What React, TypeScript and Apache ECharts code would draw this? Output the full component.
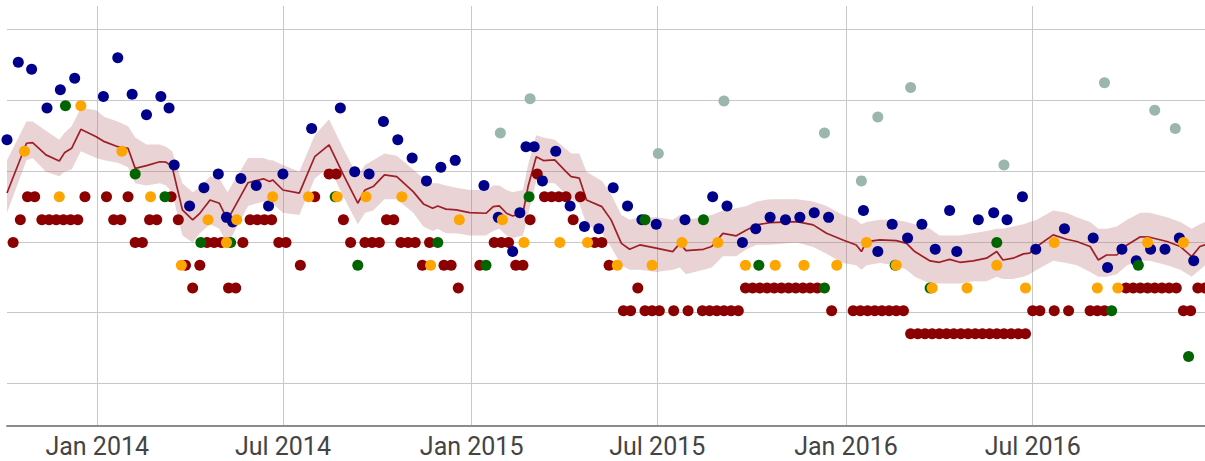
import React, { useEffect, useRef } from "react";
import * as echarts from "echarts";

// ---- axis ----
const X_MIN = "2013-10-05";
const X_MAX = "2016-12-16";
const xTickDates = ["2014-01-01", "2014-07-01", "2015-01-01", "2015-07-01", "2016-01-01", "2016-07-01"];
const xTickLabels = ["Jan 2014", "Jul 2014", "Jan 2015", "Jul 2015", "Jan 2016", "Jul 2016"];
const Y_MIN = -2.05;
const Y_MAX = 16.37;
const yGridValues = [-0.18, 2.93, 6.03, 9.14, 12.24, 15.35];

// ---- weekly poll (dark red) ----
const darkRed: [string, number][] = [
  ["2013-10-04", 5], ["2013-10-11", 6], ["2013-10-18", 7], ["2013-10-25", 8], ["2013-11-01", 8], ["2013-11-08", 7],
  ["2013-11-15", 7], ["2013-11-22", 7], ["2013-11-29", 7], ["2013-12-06", 7], ["2013-12-13", 7], ["2013-12-20", 8],
  ["2014-01-10", 8], ["2014-01-17", 7], ["2014-01-24", 7], ["2014-01-31", 8], ["2014-02-07", 6], ["2014-02-14", 6],
  ["2014-02-21", 7], ["2014-02-28", 7], ["2014-03-14", 8], ["2014-03-21", 7], ["2014-03-28", 5], ["2014-04-04", 4],
  ["2014-04-11", 5], ["2014-04-18", 6], ["2014-04-25", 6], ["2014-05-02", 6], ["2014-05-09", 4], ["2014-05-16", 4],
  ["2014-05-23", 6], ["2014-05-30", 7], ["2014-06-06", 7], ["2014-06-13", 7], ["2014-06-20", 7], ["2014-06-27", 6],
  ["2014-07-04", 6], ["2014-07-18", 5], ["2014-08-01", 8], ["2014-08-15", 9], ["2014-08-22", 9], ["2014-08-29", 7],
  ["2014-09-05", 6], ["2014-09-19", 6], ["2014-09-26", 6], ["2014-10-03", 6], ["2014-10-10", 7], ["2014-10-17", 7],
  ["2014-10-24", 6], ["2014-10-31", 6], ["2014-11-07", 6], ["2014-11-14", 5], ["2014-11-21", 6], ["2014-12-05", 5],
  ["2014-12-12", 5], ["2014-12-19", 4],
  ["2015-01-09", 5], ["2015-01-23", 6], ["2015-01-30", 6], ["2015-02-06", 6], ["2015-02-13", 5], ["2015-02-20", 5],
  ["2015-02-27", 7], ["2015-03-06", 9], ["2015-03-13", 8], ["2015-03-20", 8], ["2015-03-27", 8], ["2015-04-03", 8],
  ["2015-04-10", 7], ["2015-04-17", 8], ["2015-05-01", 6], ["2015-05-08", 6], ["2015-05-15", 5], ["2015-05-29", 3],
  ["2015-06-05", 3], ["2015-06-12", 4], ["2015-06-19", 3], ["2015-06-26", 3], ["2015-07-03", 3], ["2015-07-17", 3],
  ["2015-07-31", 3], ["2015-08-14", 3], ["2015-08-21", 3], ["2015-08-28", 3], ["2015-09-04", 3], ["2015-09-11", 3],
  ["2015-09-18", 3], ["2015-09-25", 4], ["2015-10-02", 4], ["2015-10-09", 4], ["2015-10-16", 4], ["2015-10-23", 4],
  ["2015-10-30", 4], ["2015-11-06", 4], ["2015-11-13", 4], ["2015-11-20", 4], ["2015-11-27", 4], ["2015-12-04", 4],
  ["2015-12-18", 3],
  ["2016-01-08", 3], ["2016-01-15", 3], ["2016-01-22", 3], ["2016-01-29", 3], ["2016-02-05", 3], ["2016-02-12", 3],
  ["2016-02-19", 3], ["2016-02-26", 3], ["2016-03-04", 2], ["2016-03-11", 2], ["2016-03-18", 2], ["2016-03-25", 2],
  ["2016-04-01", 2], ["2016-04-08", 2], ["2016-04-15", 2], ["2016-04-22", 2], ["2016-04-29", 2], ["2016-05-06", 2],
  ["2016-05-13", 2], ["2016-05-20", 2], ["2016-05-27", 2], ["2016-06-03", 2], ["2016-06-10", 2], ["2016-06-17", 2],
  ["2016-06-24", 2], ["2016-07-01", 3], ["2016-07-08", 3], ["2016-07-22", 3], ["2016-08-05", 3], ["2016-08-26", 3],
  ["2016-09-02", 3], ["2016-09-09", 3], ["2016-09-30", 4], ["2016-10-07", 4], ["2016-10-14", 4], ["2016-10-21", 4],
  ["2016-10-28", 4], ["2016-11-04", 4], ["2016-11-11", 4], ["2016-11-18", 4], ["2016-11-25", 3], ["2016-12-02", 3],
  ["2016-12-09", 4], ["2016-12-16", 4],
];

// ---- navy poll ----
const navy: [string, number][] = [
  ["2013-10-05", 10.5], ["2013-10-16", 13.9], ["2013-10-29", 13.6], ["2013-11-13", 11.9], ["2013-11-26", 12.7],
  ["2013-12-10", 13.2], ["2014-01-07", 12.4], ["2014-01-21", 14.1], ["2014-02-04", 12.5], ["2014-02-18", 11.6],
  ["2014-03-04", 12.4], ["2014-03-12", 11.9], ["2014-03-17", 9.4], ["2014-04-01", 7.6], ["2014-04-15", 8.4],
  ["2014-04-29", 9.0], ["2014-05-07", 7.1], ["2014-05-13", 6.9], ["2014-05-21", 8.8], ["2014-06-05", 8.5],
  ["2014-06-17", 7.6], ["2014-07-01", 9.0], ["2014-07-29", 11.0], ["2014-08-26", 11.9], ["2014-09-09", 9.1],
  ["2014-09-23", 9.0], ["2014-10-07", 11.3], ["2014-10-21", 10.5], ["2014-11-04", 9.7], ["2014-11-18", 8.7],
  ["2014-12-02", 9.3], ["2014-12-16", 9.6], ["2015-01-13", 8.5], ["2015-01-27", 7.1], ["2015-02-10", 5.6],
  ["2015-02-17", 7.3], ["2015-02-23", 10.2], ["2015-03-03", 10.2], ["2015-03-11", 8.7], ["2015-03-24", 10.0],
  ["2015-04-07", 7.6], ["2015-04-21", 6.7], ["2015-05-05", 6.6], ["2015-05-19", 8.4], ["2015-06-02", 7.6],
  ["2015-06-16", 7.0], ["2015-06-30", 6.8], ["2015-07-28", 7.0], ["2015-08-24", 8.0], ["2015-09-07", 7.6],
  ["2015-09-22", 6.0], ["2015-10-05", 6.6], ["2015-10-19", 7.1], ["2015-11-03", 7.0], ["2015-11-17", 7.1],
  ["2015-12-01", 7.3], ["2015-12-15", 7.1], ["2016-01-18", 7.4], ["2016-02-01", 5.6], ["2016-02-15", 6.8],
  ["2016-03-01", 6.2], ["2016-03-15", 6.8], ["2016-03-28", 5.7], ["2016-04-11", 7.4], ["2016-04-18", 5.6],
  ["2016-05-09", 7.0], ["2016-05-24", 7.3], ["2016-06-06", 7.0], ["2016-06-21", 8.0], ["2016-07-04", 5.7],
  ["2016-08-01", 6.6], ["2016-08-29", 6.2], ["2016-09-12", 4.9], ["2016-09-26", 5.7], ["2016-10-10", 5.2],
  ["2016-10-24", 5.7], ["2016-11-07", 5.7], ["2016-11-21", 6.2], ["2016-12-05", 5.2],
];

// ---- orange poll ----
const orange: [string, number][] = [
  ["2013-10-22", 10], ["2013-11-25", 8], ["2013-12-16", 12], ["2014-01-25", 10], ["2014-02-22", 8], ["2014-03-24", 5],
  ["2014-04-19", 7], ["2014-05-07", 6], ["2014-05-17", 7], ["2014-06-21", 8], ["2014-07-26", 8], ["2014-08-23", 8],
  ["2014-09-20", 8], ["2014-10-25", 8], ["2014-11-22", 5], ["2014-12-20", 7], ["2015-01-31", 7], ["2015-02-21", 6],
  ["2015-03-28", 6], ["2015-04-24", 6], ["2015-05-23", 5], ["2015-06-26", 5], ["2015-07-25", 6], ["2015-08-29", 6],
  ["2015-09-25", 5], ["2015-10-24", 5], ["2015-11-21", 5], ["2015-12-23", 5], ["2016-01-21", 6], ["2016-02-19", 5],
  ["2016-03-25", 4], ["2016-04-28", 4], ["2016-05-27", 5], ["2016-06-24", 4], ["2016-07-22", 6], ["2016-09-02", 4],
  ["2016-09-22", 4], ["2016-10-21", 6], ["2016-11-25", 6],
];

// ---- green poll ----
const green: [string, number][] = [
  ["2013-12-01", 12], ["2014-02-07", 9], ["2014-03-08", 8], ["2014-04-12", 6], ["2014-05-11", 6], ["2014-08-21", 8],
  ["2014-09-12", 5], ["2014-11-29", 6], ["2015-01-15", 5], ["2015-02-26", 8], ["2015-06-19", 7], ["2015-08-15", 7],
  ["2015-10-08", 5], ["2015-12-11", 4], ["2016-02-18", 5], ["2016-03-23", 4], ["2016-05-27", 6], ["2016-09-16", 3],
  ["2016-10-12", 5], ["2016-11-30", 1],
];

// ---- grey-green poll ----
const greyGreen: [string, number][] = [
  ["2015-01-29", 10.8], ["2015-02-27", 12.3], ["2015-07-02", 9.9], ["2015-09-04", 12.2], ["2015-12-11", 10.8],
  ["2016-01-16", 8.7], ["2016-02-01", 11.5], ["2016-03-04", 12.8], ["2016-06-03", 9.4], ["2016-09-09", 13.0],
  ["2016-10-28", 11.8], ["2016-11-17", 11.0],
];

// ---- trend line and its band ----
const trendDates = [
  "2013-10-05", "2013-10-24", "2013-10-30", "2013-11-12", "2013-11-25", "2013-11-30", "2013-12-07", "2013-12-16",
  "2013-12-31", "2014-01-08", "2014-01-21", "2014-01-31", "2014-02-07", "2014-02-18", "2014-03-03", "2014-03-09",
  "2014-03-15", "2014-03-25", "2014-04-04", "2014-04-11", "2014-04-21", "2014-04-30", "2014-05-08", "2014-05-28",
  "2014-06-12", "2014-06-18", "2014-06-21", "2014-07-01", "2014-07-17", "2014-08-01", "2014-08-15", "2014-08-29",
  "2014-09-12", "2014-09-19", "2014-09-27", "2014-10-08", "2014-10-20", "2014-11-05", "2014-11-15", "2014-11-24",
  "2014-11-29", "2014-12-07", "2014-12-17", "2014-12-30", "2015-01-15", "2015-01-22", "2015-01-28", "2015-02-04",
  "2015-02-10", "2015-02-20", "2015-02-25", "2015-03-05", "2015-03-12", "2015-03-23", "2015-04-03", "2015-04-08",
  "2015-04-16", "2015-04-23", "2015-05-08", "2015-05-17", "2015-05-27", "2015-06-04", "2015-06-14", "2015-06-30",
  "2015-07-16", "2015-07-23", "2015-07-29", "2015-08-15", "2015-08-23", "2015-09-03", "2015-09-16", "2015-09-26",
  "2015-10-06", "2015-10-19", "2015-11-14", "2015-11-30", "2015-12-13", "2015-12-29", "2016-01-11", "2016-01-16",
  "2016-01-21", "2016-02-03", "2016-02-19", "2016-02-29", "2016-03-08", "2016-03-23", "2016-04-01", "2016-04-11",
  "2016-04-21", "2016-05-04", "2016-05-17", "2016-05-27", "2016-06-02", "2016-06-12", "2016-06-22", "2016-06-28",
  "2016-07-05", "2016-07-21", "2016-08-03", "2016-08-13", "2016-08-26", "2016-09-03", "2016-09-11", "2016-09-21",
  "2016-10-01", "2016-10-14", "2016-10-23", "2016-11-09", "2016-11-22", "2016-12-03", "2016-12-11", "2016-12-16",
];
const trendValues = [
  8.17, 10.35, 10.38, 9.84, 9.57, 9.93, 10.13, 10.96,
  10.64, 10.42, 10.2, 10.13, 9.25, 9.37, 9.54, 9.52,
  9.32, 7.43, 6.99, 7.28, 7.86, 7.72, 6.99, 8.62,
  8.79, 8.67, 8.74, 8.3, 8.16, 9.76, 10.28, 8.96,
  7.72, 8.3, 8.45, 8.96, 8.89, 8.23, 7.69, 7.5,
  7.6, 7.46, 7.43, 7.31, 7.28, 7.57, 7.6, 7.28,
  7.16, 7.28, 8.45, 9.76, 9.59, 9.62, 9.11, 8.89,
  8.82, 7.86, 7.57, 6.99, 5.96, 5.7, 5.89, 5.75,
  5.6, 5.96, 5.64, 5.7, 5.82, 6.4, 6.29, 6.55,
  6.77, 6.87, 6.91, 6.77, 6.4, 6.11, 5.89, 5.6,
  6.04, 6.11, 6.08, 5.96, 5.6, 5.19, 5.13, 5.26,
  5.13, 5.19, 5.31, 5.6, 5.23, 5.31, 5.5, 5.53,
  5.82, 6.33, 6.14, 6.04, 5.82, 5.23, 5.45, 5.45,
  5.89, 6.25, 6.23, 6.04, 5.82, 5.38, 5.82, 5.9,
];
const bandUpper = [
  9.6, 11.3, 11.3, 10.9, 10.5, 10.8, 11.1, 11.9,
  11.8, 11.5, 11.3, 11.1, 10.6, 10.3, 10.3, 10.2,
  10.0, 8.6, 8.2, 8.4, 8.9, 8.8, 8.2, 9.7,
  9.7, 9.6, 9.6, 9.4, 9.1, 10.7, 11.4, 10.1,
  8.9, 9.4, 9.6, 9.9, 9.8, 9.2, 8.8, 8.6,
  8.6, 8.5, 8.4, 8.3, 8.3, 8.5, 8.5, 8.3,
  8.2, 8.3, 9.4, 10.7, 10.6, 10.5, 10.1, 9.9,
  9.9, 9.1, 8.7, 8.1, 7.2, 7.0, 7.1, 7.1,
  7.0, 7.2, 7.0, 7.1, 7.2, 7.4, 7.5, 7.6,
  7.8, 7.9, 7.9, 7.8, 7.6, 7.2, 7.0, 6.8,
  6.9, 7.0, 7.0, 6.9, 6.8, 6.6, 6.3, 6.3,
  6.3, 6.4, 6.5, 6.6, 6.6, 6.7, 6.8, 6.9,
  7.0, 7.4, 7.3, 7.1, 6.9, 6.6, 6.6, 6.7,
  7.0, 7.3, 7.3, 7.1, 6.9, 6.6, 6.8, 6.9,
];
const bandLower = [
  7.3, 9.6, 9.7, 9.1, 8.9, 9.1, 9.2, 10.0,
  9.7, 9.6, 9.5, 9.3, 8.6, 8.5, 8.6, 8.5,
  8.2, 6.3, 6.0, 6.4, 6.8, 6.6, 5.9, 7.6,
  7.8, 7.6, 7.7, 7.3, 7.2, 8.8, 9.3, 8.0,
  6.8, 7.3, 7.4, 7.9, 7.9, 7.3, 6.7, 6.5,
  6.6, 6.4, 6.4, 6.3, 6.3, 6.5, 6.6, 6.3,
  6.2, 6.3, 7.2, 8.7, 8.6, 8.6, 8.1, 7.9,
  7.7, 6.8, 6.4, 5.8, 5.0, 4.8, 4.8, 4.7,
  4.8, 4.9, 4.6, 4.8, 4.9, 5.4, 5.4, 5.7,
  5.9, 5.9, 6.0, 5.8, 5.5, 5.1, 5.0, 4.8,
  5.0, 5.1, 5.0, 4.8, 4.5, 4.2, 4.2, 4.2,
  4.2, 4.3, 4.3, 4.5, 4.4, 4.4, 4.5, 4.6,
  4.8, 5.2, 5.1, 5.0, 4.7, 4.5, 4.5, 4.6,
  5.0, 5.2, 5.2, 5.0, 4.8, 4.5, 4.8, 5.0,
];

const COLORS = {
  darkRed: "#8b0000",
  navy: "#00008b",
  orange: "#ffa500",
  green: "#006400",
  greyGreen: "#9bb6ab",
  trend: "#9e1f28",
  band: "rgba(182,108,112,0.3)",
  grid: "#c8c8c8",
  axis: "#8c8c8c",
  label: "#444444",
};

const t = (d: string) => echarts.number.parseDate(d).getTime();

export default function App() {
  const ref = useRef<HTMLDivElement>(null);

  useEffect(() => {
    if (!ref.current) return;
    const chart = echarts.init(ref.current, undefined, { renderer: "svg" });
    const tickTimes = xTickDates.map(t);
    const pts = (data: [string, number][]) => data.map(([d, v]) => [t(d), v]);
    const dot = (name: string, data: [string, number][], color: string, z: number) => ({
      name,
      type: "scatter",
      data: pts(data),
      symbol: "circle",
      symbolSize: 11,
      itemStyle: { color, opacity: 1 },
      z,
      silent: true,
    });
    chart.setOption({
      animation: false,
      grid: { left: 7, right: 0, top: 6, bottom: 35, containLabel: false },
      xAxis: {
        type: "value",
        min: t(X_MIN),
        max: t(X_MAX),
        axisLine: { show: true, onZero: false, lineStyle: { color: COLORS.axis, width: 2 } },
        axisTick: { show: false, customValues: tickTimes },
        axisLabel: {
          customValues: tickTimes,
          formatter: (v: number) => {
            const i = tickTimes.findIndex((tt) => Math.abs(tt - v) < 43200000);
            return i >= 0 ? xTickLabels[i] : "";
          },
          fontFamily: "Roboto",
          fontSize: 25,
          lineHeight: 25,
          color: COLORS.label,
          margin: 8,
        },
        splitLine: { show: true, lineStyle: { color: COLORS.grid, width: 1 } },
      },
      yAxis: {
        type: "value",
        min: Y_MIN,
        max: Y_MAX,
        axisLine: { show: false },
        axisTick: { show: false, customValues: yGridValues },
        axisLabel: { show: false },
        splitLine: { show: true, lineStyle: { color: COLORS.grid, width: 1 } },
      },
      series: [
        {
          name: "band",
          type: "custom",
          data: [[t(trendDates[0]), trendValues[0]]],
          clip: true,
          silent: true,
          z: 1,
          renderItem: (_params: any, api: any) => {
            const up = trendDates.map((d, i) => api.coord([t(d), bandUpper[i]]));
            const lo = trendDates.map((d, i) => api.coord([t(d), bandLower[i]])).reverse();
            return {
              type: "polygon",
              shape: { points: up.concat(lo) },
              style: { fill: COLORS.band },
            };
          },
        },
        {
          name: "trend",
          type: "line",
          data: trendDates.map((d, i) => [t(d), trendValues[i]]),
          symbol: "none",
          lineStyle: { color: COLORS.trend, width: 1.7 },
          silent: true,
          z: 2,
        },
        dot("darkRed", darkRed, COLORS.darkRed, 3),
        dot("navy", navy, COLORS.navy, 4),
        dot("greyGreen", greyGreen, COLORS.greyGreen, 4),
        dot("green", green, COLORS.green, 5),
        dot("orange", orange, COLORS.orange, 6),
      ],
    });
    return () => chart.dispose();
  }, []);

  return (
    <div
      ref={ref}
      style={{ position: "fixed", left: 0, top: 0, width: 1205, height: 461, background: "#fff" }}
    />
  );
}
